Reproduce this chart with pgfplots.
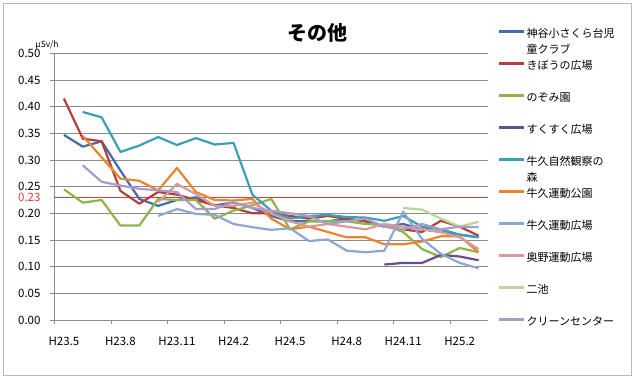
\documentclass[border=0pt]{standalone}
\usepackage{fontspec}
\setmainfont{Noto Sans CJK JP}
\usepackage{pgfplots}
\pgfplotsset{compat=1.18}
\definecolor{cA}{HTML}{3F6DAE}
\definecolor{cB}{HTML}{B2413E}
\definecolor{cC}{HTML}{8FB547}
\definecolor{cD}{HTML}{6A4C93}
\definecolor{cE}{HTML}{3A9FB7}
\definecolor{cF}{HTML}{EB8530}
\definecolor{cG}{HTML}{8CA7D6}
\definecolor{cH}{HTML}{DC999A}
\definecolor{cI}{HTML}{BDD597}
\definecolor{cJ}{HTML}{A99CC8}
\definecolor{refred}{HTML}{E03C3C}
\definecolor{gridc}{HTML}{8C8C8C}
\begin{document}
\begin{tikzpicture}[x=1pt,y=1pt]
\path[use as bounding box] (0,0) rectangle (637,390);
\draw[gray!55, line width=0.8pt] (3,15) rectangle (631,387);
\node at (317,357) {\fontsize{20}{24}\selectfont\bfseries その他};
\node at (47,345) {\fontsize{8.5}{10}\selectfont µSv/h};
\begin{axis}[
  at={(54.5pt,70pt)}, anchor=south west, scale only axis,
  width=433.5pt, height=266.7pt,
  xmin=-0.5, xmax=22.5, ymin=0, ymax=0.5,
  axis x line*=bottom, axis y line*=left,
  axis line style={gridc, line width=0.8pt, -},
  ytick={0,0.05,0.1,0.15,0.2,0.25,0.3,0.35,0.4,0.45,0.5},
  yticklabel style={/pgf/number format/fixed, /pgf/number format/fixed zerofill, /pgf/number format/precision=2, xshift=-6pt},
  /pgf/number format/assume math mode=true,
  ymajorgrids, grid style={gridc, line width=0.8pt},
  tick align=outside, major tick length=4.5pt, tick style={gridc, line width=0.8pt},
  xtick={-0.5,2.5,5.5,8.5,11.5,14.5,17.5,20.5},
  xticklabels={H23.5,H23.8,H23.11,H24.2,H24.5,H24.8,H24.11,H25.2},
  xticklabel style={xshift=9.42pt, yshift=-9pt},
  ticklabel style={font=\fontsize{11.5}{13}\selectfont},
  extra y ticks={0.23}, extra y tick labels={0.23},
  extra y tick style={major tick length=0pt, grid=none, yticklabel style={text=refred, xshift=-4.5pt}},
  every axis plot/.append style={line width=2.2pt, line join=round, no markers},
  legend style={at={(1,1)}, anchor=north west, xshift=7pt, yshift=26pt,
    draw=none, fill=none, font=\fontsize{11}{16}\selectfont,
    row sep=21pt, column sep=1pt,
    nodes={inner sep=0pt, text height=8pt, text depth=3pt}},
  legend cell align=left,
  legend image code/.code={\draw[#1, line width=2.5pt] (0pt,3.5pt) -- (25pt,3.5pt);},
]
\addplot[refred, line width=0.9pt, forget plot] coordinates {(-0.5,0.23) (22.5,0.23)};
\addplot[cA] coordinates {(0,0.347)(1,0.325)(2,0.335)(3,0.28)(4,0.227)(5,0.214)(6,0.225)(7,0.23)(8,0.215)(9,0.22)(10,0.21)(11,0.195)(12,0.185)(13,0.185)(14,0.185)(15,0.19)(16,0.185)(17,0.175)(18,0.18)(19,0.17)(20,0.165)(21,0.16)(22,0.155)};
\addlegendentry{\begin{tabular}[t]{@{}l@{}}神谷小さくら台児\\童クラブ\end{tabular}}
\addplot[cB] coordinates {(0,0.415)(1,0.34)(2,0.335)(3,0.242)(4,0.218)(5,0.24)(6,0.235)(7,0.225)(8,0.215)(9,0.21)(10,0.2)(11,0.2)(12,0.195)(13,0.19)(14,0.195)(15,0.19)(16,0.185)(17,0.175)(18,0.17)(19,0.165)(20,0.186)(21,0.175)(22,0.158)};
\addlegendentry{きぼうの広場}
\addplot[cC] coordinates {(0,0.245)(1,0.22)(2,0.225)(3,0.177)(4,0.177)(5,0.227)(6,0.225)(7,0.225)(8,0.19)(9,0.205)(10,0.215)(11,0.227)(12,0.17)(13,0.185)(14,0.185)(15,0.185)(16,0.18)(17,0.178)(18,0.165)(19,0.133)(20,0.118)(21,0.135)(22,0.127)};
\addlegendentry{のぞみ園}
\addplot[cD] coordinates {(17,0.104)(18,0.107)(19,0.107)(20,0.122)(21,0.119)(22,0.112)};
\addlegendentry{すくすく広場}
\addplot[cE] coordinates {(1,0.39)(2,0.38)(3,0.315)(4,0.327)(5,0.343)(6,0.328)(7,0.341)(8,0.329)(9,0.332)(10,0.235)(11,0.205)(12,0.19)(13,0.195)(14,0.197)(15,0.193)(16,0.192)(17,0.186)(18,0.195)(19,0.175)(20,0.17)(21,0.16)(22,0.155)};
\addlegendentry{\begin{tabular}[t]{@{}l@{}}牛久自然観察の\\森\end{tabular}}
\addplot[cF] coordinates {(1,0.345)(2,0.305)(3,0.265)(4,0.261)(5,0.243)(6,0.285)(7,0.24)(8,0.225)(9,0.224)(10,0.227)(11,0.19)(12,0.17)(13,0.175)(14,0.165)(15,0.155)(16,0.155)(17,0.142)(18,0.142)(19,0.147)(20,0.157)(21,0.157)(22,0.127)};
\addlegendentry{牛久運動公園}
\addplot[cG] coordinates {(5,0.195)(6,0.208)(7,0.199)(8,0.197)(9,0.18)(10,0.174)(11,0.169)(12,0.172)(13,0.148)(14,0.151)(15,0.13)(16,0.127)(17,0.13)(18,0.203)(19,0.152)(20,0.124)(21,0.107)(22,0.097)};
\addlegendentry{牛久運動広場}
\addplot[cH] coordinates {(5,0.221)(6,0.255)(7,0.236)(8,0.214)(9,0.214)(10,0.22)(11,0.2)(12,0.185)(13,0.175)(14,0.18)(15,0.175)(16,0.17)(17,0.18)(18,0.175)(19,0.17)(20,0.165)(21,0.155)(22,0.133)};
\addlegendentry{奥野運動広場}
\addplot[cI] coordinates {(18,0.21)(19,0.207)(20,0.19)(21,0.175)(22,0.184)};
\addlegendentry{二池}
\addplot[cJ] coordinates {(1,0.29)(2,0.259)(3,0.252)(4,0.246)(5,0.243)(6,0.24)(7,0.208)(8,0.208)(9,0.221)(10,0.21)(11,0.205)(12,0.2)(13,0.195)(14,0.18)(15,0.185)(16,0.19)(17,0.175)(18,0.17)(19,0.18)(20,0.17)(21,0.175)(22,0.174)};
\addlegendentry{クリーンセンター}
\end{axis}
\end{tikzpicture}
\end{document}
